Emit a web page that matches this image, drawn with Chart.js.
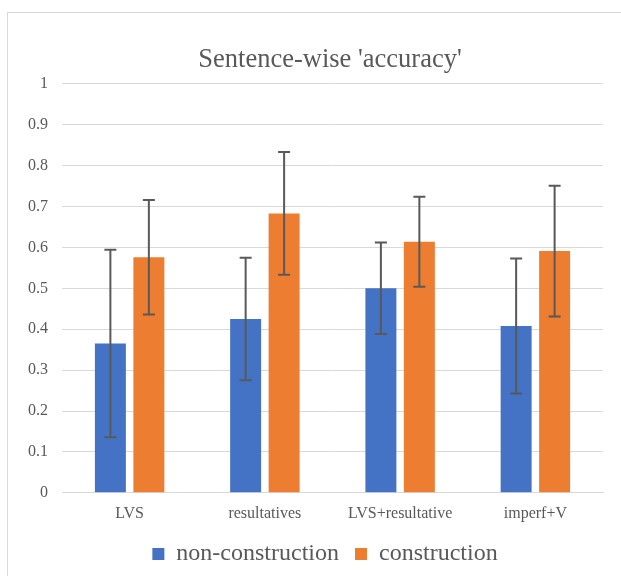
<!DOCTYPE html>
<html>
<head>
<meta charset="utf-8">
<script src="https://cdn.jsdelivr.net/npm/chart.js@4"></script>
<style>
  html, body { margin: 0; padding: 0; background: #fff; overflow: hidden; }
  #frame {
    position: absolute; left: 7px; top: 12px; width: 640px; height: 600px;
    border: 1px solid #d9d9d9; box-sizing: border-box;
  }
  #wrap { position: absolute; left: 0; top: 0; width: 621px; height: 576px; }
</style>
</head>
<body>
<div id="frame"></div>
<div id="wrap"><canvas id="myChart" width="621" height="576"></canvas></div>
<script>
const categories = ["LVS", "resultatives", "LVS+resultative", "imperf+V"];
const nonConstruction = [0.365, 0.425, 0.5, 0.408];
const nonConstructionErr = [0.229, 0.15, 0.112, 0.165];
const construction = [0.576, 0.683, 0.614, 0.591];
const constructionErr = [0.14, 0.15, 0.11, 0.16];
const yTicks = [0, 0.1, 0.2, 0.3, 0.4, 0.5, 0.6, 0.7, 0.8, 0.9, 1];

const serif = "'Liberation Serif', 'Times New Roman', serif";

// draws the whiskers on top of the bars
const errorBars = {
  id: "errorBars",
  afterDatasetsDraw(chart) {
    const ctx = chart.ctx;
    const y = chart.scales.y;
    chart.data.datasets.forEach((ds, i) => {
      const meta = chart.getDatasetMeta(i);
      meta.data.forEach((bar, j) => {
        const v = ds.data[j];
        const e = ds.errors[j];
        const top = y.getPixelForValue(v + e);
        const bot = y.getPixelForValue(v - e);
        ctx.save();
        ctx.strokeStyle = "#595959";
        ctx.lineWidth = 2;
        ctx.beginPath();
        ctx.moveTo(bar.x, top);
        ctx.lineTo(bar.x, bot);
        ctx.moveTo(bar.x - 6, top);
        ctx.lineTo(bar.x + 6, top);
        ctx.moveTo(bar.x - 6, bot);
        ctx.lineTo(bar.x + 6, bot);
        ctx.stroke();
        ctx.restore();
      });
    });
  },
};

// title and legend sit a bit right of the canvas centre, like in excel
const shiftBlocks = {
  id: "shiftBlocks",
  afterLayout(chart) {
    chart.titleBlock.left = 57;
    chart.titleBlock.right = 603;
    chart.legend.left = 47;
    chart.legend.right = 603;
  },
};

new Chart(document.getElementById("myChart"), {
  type: "bar",
  data: {
    labels: categories,
    datasets: [
      {
        label: "non-construction",
        data: nonConstruction,
        errors: nonConstructionErr,
        backgroundColor: "#4472C4",
      },
      {
        label: "construction",
        data: construction,
        errors: constructionErr,
        backgroundColor: "#ED7D31",
      },
    ],
  },
  options: {
    responsive: false,
    animation: false,
    categoryPercentage: 0.569,
    barPercentage: 0.805,
    layout: { padding: { left: 10, right: 18, top: 44, bottom: 0 } },
    plugins: {
      title: {
        display: true,
        text: "Sentence-wise 'accuracy'",
        color: "#595959",
        font: { family: serif, size: 26.5, weight: "normal" },
        padding: { top: 0, bottom: 8 },
      },
      legend: {
        position: "bottom",
        labels: {
          color: "#595959",
          font: { family: serif, size: 24 },
          boxWidth: 12,
          boxHeight: 12,
          padding: 16,
          generateLabels: (chart) =>
            chart.data.datasets.map((ds, i) => ({
              text: ds.label,
              fillStyle: ds.backgroundColor,
              strokeStyle: ds.backgroundColor,
              lineWidth: 0,
              datasetIndex: i,
              fontColor: "#595959",
            })),
        },
      },
      tooltip: { enabled: false },
    },
    scales: {
      x: {
        grid: { display: false },
        border: { color: "#d9d9d9", width: 1 },
        ticks: { color: "#595959", font: { family: serif, size: 16 }, padding: 3 },
      },
      y: {
        min: 0,
        max: 1,
        afterBuildTicks: (axis) => {
          axis.ticks = yTicks.map((v) => ({ value: v }));
        },
        afterFit: (axis) => {
          axis.width = 52;
        },
        grid: { color: "#d9d9d9", lineWidth: 1, drawTicks: false },
        border: { display: false },
        ticks: {
          color: "#595959",
          font: { family: serif, size: 16 },
          padding: 14,
          callback: (v) => String(+v.toFixed(1)),
        },
      },
    },
  },
  plugins: [errorBars, shiftBlocks],
});
</script>
</body>
</html>
